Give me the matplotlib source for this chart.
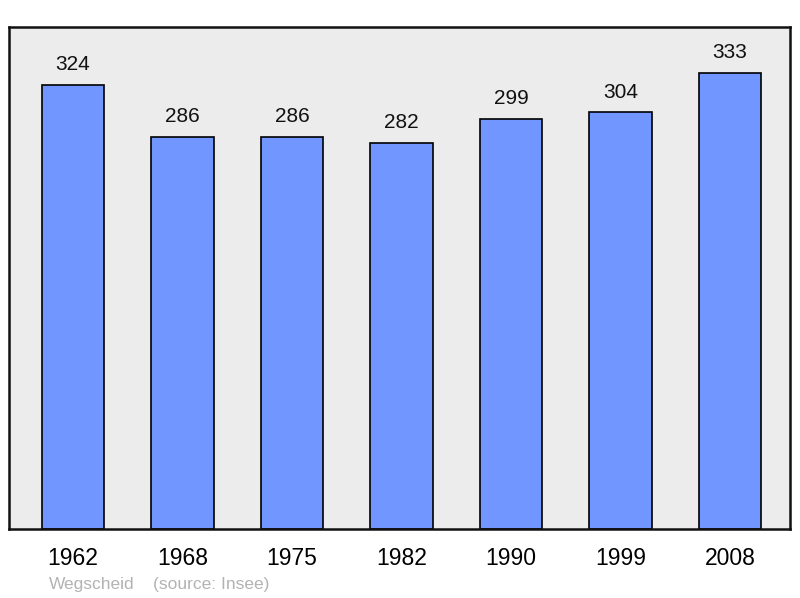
import matplotlib
matplotlib.use('Agg')
import matplotlib.pyplot as plt

plt.rcParams['font.family'] = ['Liberation Sans', 'DejaVu Sans']

years = ['1962', '1968', '1975', '1982', '1990', '1999', '2008']
population = [324, 286, 286, 282, 299, 304, 333]

fig = plt.figure(figsize=(8, 5.98), dpi=100)
ax = fig.add_axes([9 / 800, (598 - 529) / 598, 781 / 800, 502 / 598])
ax.set_facecolor('#ececec')

x = list(range(len(years)))
ax.bar(x, population, width=0.57, color='#7196ff', edgecolor='black', linewidth=1.2, zorder=2)

for xi, v in zip(x, population):
    ax.text(xi, v + 8, str(v), ha='center', va='bottom', fontsize=15, color='#111111')

ax.set_xlim(-0.584, 6.548)
ax.set_ylim(0, 366.4)
ax.set_yticks([])
ax.set_xticks(x)
ax.set_xticklabels(years, fontsize=16.5)
ax.tick_params(axis='x', length=0, pad=13)
for s in ax.spines.values():
    s.set_linewidth(1.8)
    s.set_color('#111111')

fig.text(49 / 800, 1 - 585 / 598, 'Wegscheid', fontsize=12.5, color='#b3b3b3', va='center')
fig.text(153 / 800, 1 - 585 / 598, '(source: Insee)', fontsize=12.5, color='#b3b3b3', va='center')

fig.savefig('out.png', dpi=100)
